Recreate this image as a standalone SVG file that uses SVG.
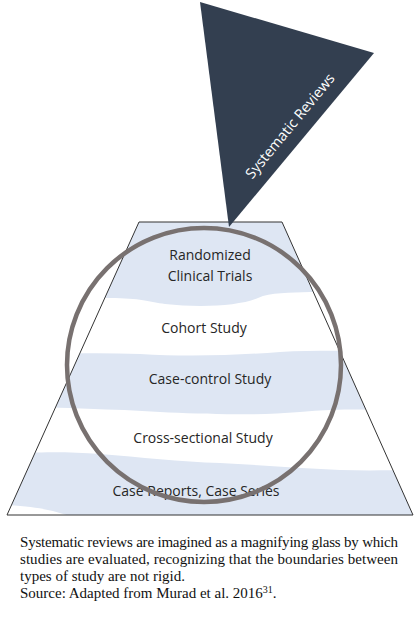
<svg xmlns="http://www.w3.org/2000/svg" width="420" height="617" viewBox="0 0 420 617">
<style>
.lbl{font-family:"Open Sans","DejaVu Sans",sans-serif;font-size:14px;fill:#262626;text-anchor:middle}
.cap{font-family:"Liberation Serif","Times New Roman",serif;font-size:15px;fill:#111}
.band{fill:#dee6f3}
</style>
<defs>
<clipPath id="trap"><polygon points="139,222 282,222 413,515 7,515"/></clipPath>
</defs>
<rect width="420" height="617" fill="#fff"/>
<g id="pyramid">
<g clip-path="url(#trap)">
<path class="band" d="M0,215 H420 V290 C380,292 340,290 310,292 C290,293 270,292 258,298 C240,306 200,308 165,304 C150,302 140,298 110,298 C80,298 40,296 0,296 Z"/>
<path class="band" d="M0,356 C40,354 90,352 140,354 C190,357 240,355 280,352 C320,350 370,351 420,352 V410 C380,410 340,408 300,412 C250,416 200,414 160,412 C110,409 60,408 0,406 Z"/>
<path class="band" d="M0,456 C20,452 60,451 100,454 C140,457 180,462 220,463 C260,465 300,468 340,470 C370,471 400,470 420,470 V520 H80 C60,512 40,506 0,505 Z"/>
</g>
<polygon points="139,222 282,222 413,515 7,515" fill="none" stroke="#333" stroke-width="1"/>
</g>
<g id="labels">
<text class="lbl" x="210" y="260">Randomized</text>
<text class="lbl" x="210" y="281">Clinical Trials</text>
<text class="lbl" x="204" y="333">Cohort Study</text>
<text class="lbl" x="210" y="384">Case-control Study</text>
<text class="lbl" x="203" y="443">Cross-sectional Study</text>
<text class="lbl" x="196" y="496">Case Reports, Case Series</text>
</g>
<g id="magnifier">
<circle cx="204" cy="365" r="137" fill="none" stroke="#787170" stroke-width="4.5"/>
</g>
<g id="systematic-reviews">
<polygon points="200,2 374,53 229,227" fill="#333f50"/>
<text x="290" y="131" transform="rotate(-50.5 290 126)" font-family="'Open Sans','DejaVu Sans',sans-serif" font-size="14.5" fill="#fff" text-anchor="middle">Systematic Reviews</text>
</g>
<g id="caption">
<text class="cap" x="20" y="547" textLength="378" lengthAdjust="spacing">Systematic reviews are imagined as a magnifying glass by which</text>
<text class="cap" x="20" y="564" textLength="378" lengthAdjust="spacing">studies are evaluated, recognizing that the boundaries between</text>
<text class="cap" x="20" y="581">types of study are not rigid.</text>
<text class="cap" x="20" y="598">Source: Adapted from Murad et al. 2016<tspan font-size="10" dy="-5">31</tspan><tspan dy="5">.</tspan></text>
</g>
</svg>
